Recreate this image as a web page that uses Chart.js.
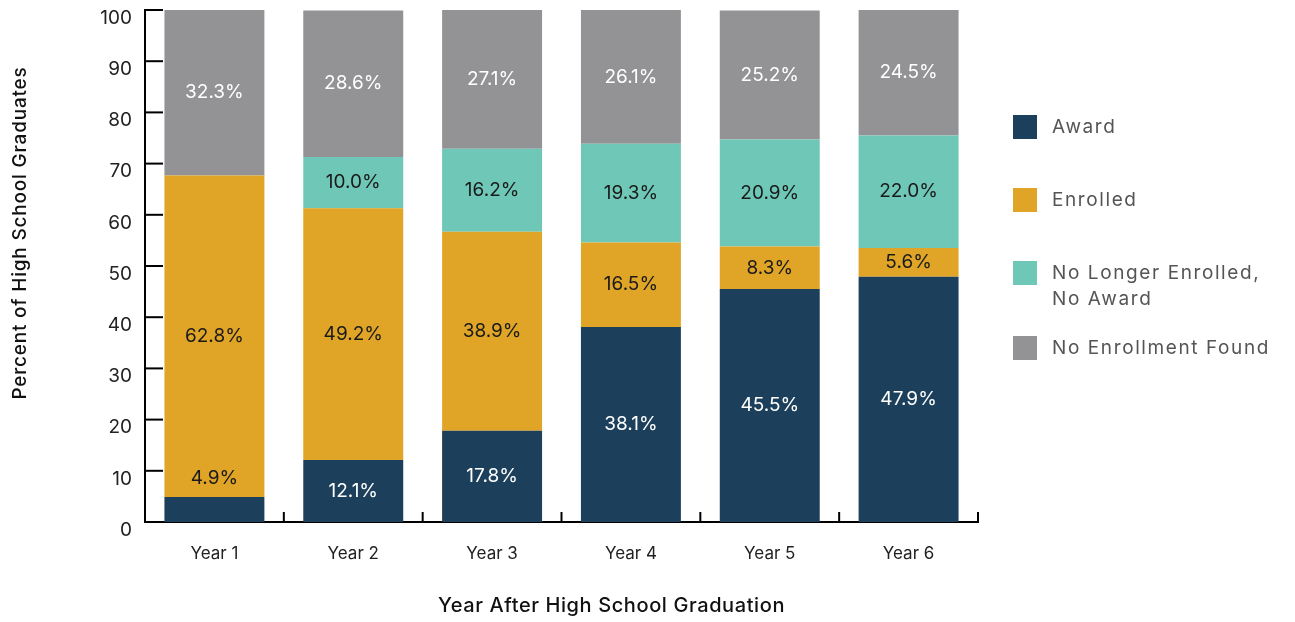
<!DOCTYPE html>
<html>
<head>
<meta charset="utf-8">
<script src="https://cdn.jsdelivr.net/npm/chart.js@4.4.1/dist/chart.umd.min.js"></script>
<style>
  html, body { margin: 0; padding: 0; background: #fff; }
  #wrap { position: relative; width: 1295px; height: 622px; }
  #legend { position: absolute; left: 1013px; top: 115px; font-family: Inter, sans-serif; font-size: 19px; color: #555; letter-spacing: 1.6px; }
  .item { position: absolute; left: 0; white-space: nowrap; }
  .box { position: absolute; left: 0; top: 0; width: 24px; height: 24px; }
  .txt { position: absolute; left: 39px; top: -1px; line-height: 26px; }
</style>
</head>
<body>
<div id="wrap">
  <canvas id="stackChart" width="1295" height="622"></canvas>
  <div id="legend"></div>
</div>
<script>
// values
let years = ["Year 1", "Year 2", "Year 3", "Year 4", "Year 5", "Year 6"];
let awardData = [4.9, 12.1, 17.8, 38.1, 45.5, 47.9];
let enrolledData = [62.8, 49.2, 38.9, 16.5, 8.3, 5.6];
let noLongerData = [0, 10.0, 16.2, 19.3, 20.9, 22.0];
let noEnrollData = [32.3, 28.6, 27.1, 26.1, 25.2, 24.5];
let seriesNames = ["Award", "Enrolled", ["No Longer Enrolled,", "No Award"], "No Enrollment Found"];
let seriesColors = ["#1c405b", "#e0a526", "#6fc8b7", "#939396"];
let labelColors = ["#ffffff", "#1a1a1a", "#1a1a1a", "#ffffff"];
let legendTops = [0, 73, 146, 221];
let xTitle = "Year After High School Graduation";
let yTitle = "Percent of High School Graduates";

const FONT = "Inter, sans-serif";

// inner tick marks on both axes
const innerTicks = {
    id: 'innerTicks',
    afterDraw: (chart) => {
        const ctx = chart.ctx;
        const x = chart.scales.x, y = chart.scales.y;
        ctx.save();
        ctx.strokeStyle = "#000";
        ctx.lineWidth = 2;
        y.ticks.forEach((t, i) => {
            if (i === 0) return;
            const py = y.getPixelForTick(i);
            ctx.beginPath();
            ctx.moveTo(x.left, py);
            ctx.lineTo(x.left + 18, py);
            ctx.stroke();
        });
        for (var i = 1; i <= years.length; i++) {
            const px = i < years.length ? (x.getPixelForTick(i - 1) + x.getPixelForTick(i)) / 2 : x.right;
            ctx.beginPath();
            ctx.moveTo(px, y.bottom);
            ctx.lineTo(px, y.bottom - 10);
            ctx.stroke();
        }
        ctx.restore();
    }
};

// axis titles, placed a little off centre like the original
const axisTitles = {
    id: 'axisTitles',
    afterDraw: (chart) => {
        const ctx = chart.ctx;
        const a = chart.chartArea;
        ctx.save();
        ctx.fillStyle = "#111";
        ctx.textAlign = "center";
        ctx.textBaseline = "middle";
        ctx.font = "500 20px " + FONT;
        ctx.letterSpacing = "0.6px";
        ctx.fillText(xTitle, (a.left + a.right) / 2 + 50, a.bottom + 84);
        ctx.font = "500 19px " + FONT;
        ctx.letterSpacing = "0.8px";
        ctx.translate(20, (a.top + a.bottom) / 2 - 33);
        ctx.rotate(-Math.PI / 2);
        ctx.fillText(yTitle, 0, 0);
        ctx.restore();
    }
};

// percentage labels inside each segment
const segmentLabels = {
    id: 'segmentLabels',
    afterDatasetsDraw: (chart) => {
        const ctx = chart.ctx;
        ctx.save();
        ctx.font = "19px " + FONT;
        ctx.textAlign = "center";
        ctx.textBaseline = "middle";
        chart.data.datasets.forEach((ds, di) => {
            const meta = chart.getDatasetMeta(di);
            meta.data.forEach((bar, i) => {
                const v = ds.data[i];
                if (!v) return;
                const p = bar.getProps(['x', 'y', 'base'], true);
                const h = Math.abs(p.base - p.y);
                let ty = (p.y + p.base) / 2;
                ctx.fillStyle = labelColors[di];
                if (h < 27) {
                    ty = p.y - 19;
                    ctx.fillStyle = "#1a1a1a";
                }
                ctx.fillText(v.toFixed(1) + "%", p.x, ty);
            });
        });
        ctx.restore();
    }
};

let datasets = [awardData, enrolledData, noLongerData, noEnrollData].map((d, i) => ({
    label: Array.isArray(seriesNames[i]) ? seriesNames[i].join(" ") : seriesNames[i],
    data: d,
    backgroundColor: seriesColors[i],
    borderWidth: 0,
    barPercentage: 0.72,
    categoryPercentage: 1.0
}));

var ctxB = document.getElementById("stackChart").getContext('2d');
var stackChart = new Chart(ctxB, {
    type: 'bar',
    data: { labels: years, datasets: datasets },
    options: {
        responsive: false,
        animation: false,
        layout: { padding: { left: 5, right: 317, top: 10, bottom: 0 } },
        plugins: { legend: { display: false }, tooltip: { enabled: false } },
        scales: {
            x: {
                stacked: true,
                grid: { display: false, drawTicks: false },
                border: { display: true, color: "#000", width: 2 },
                ticks: { color: "#222", font: { family: FONT, size: 17 }, padding: 22 },
                afterFit: (s) => { s.height = 100; s.paddingLeft = 0; s.paddingRight = 0; }
            },
            y: {
                stacked: true,
                min: 0, max: 100,
                grid: { display: false, drawTicks: false },
                border: { display: true, color: "#000", width: 2 },
                ticks: { stepSize: 10, color: "#222", font: { family: FONT, size: 19 }, padding: 13, labelOffset: 8 },
                afterFit: (s) => { s.width = 140; s.paddingTop = 0; s.paddingBottom = 0; }
            }
        }
    },
    plugins: [innerTicks, segmentLabels, axisTitles]
});

// legend built from the datasets
let legendDiv = document.getElementById("legend");
seriesNames.forEach((name, i) => {
    let item = document.createElement("div");
    item.className = "item";
    item.style.top = legendTops[i] + "px";
    let box = document.createElement("div");
    box.className = "box";
    box.style.background = seriesColors[i];
    let txt = document.createElement("div");
    txt.className = "txt";
    txt.innerHTML = Array.isArray(name) ? name.join("<br>") : name;
    item.appendChild(box);
    item.appendChild(txt);
    legendDiv.appendChild(item);
});
</script>
</body>
</html>
